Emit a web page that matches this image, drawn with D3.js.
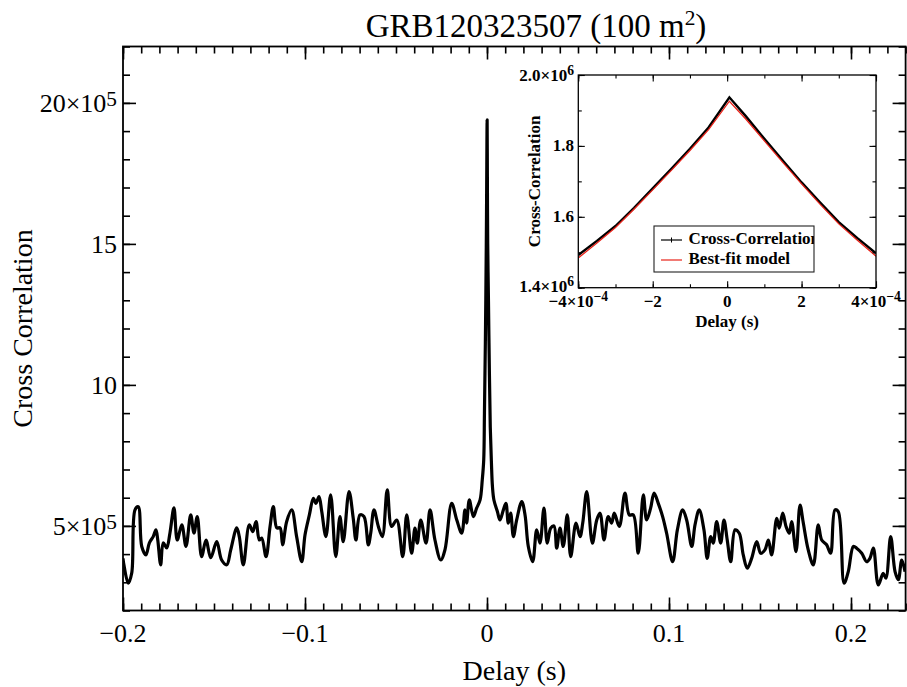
<!DOCTYPE html>
<html><head><meta charset="utf-8">
<script src="https://cdn.jsdelivr.net/npm/d3@7"></script>
<style>
body{margin:0;background:#fff}
svg{display:block}
text{font-family:"Liberation Serif","Times New Roman",serif;fill:#000}
</style>
</head><body>
<svg id="c" width="907" height="687"></svg>
<script>
// ---------------- DATA ----------------
const title = "GRB120323507 (100 m^2)";
const xLabel = "Delay (s)";
const yLabel = "Cross Correlation";

// Main cross-correlation (delay in s, value in units of 1e5)
const delay = [
-0.2000,-0.1995,-0.1971,-0.1952,-0.1934,-0.1916,-0.1897,-0.1874,-0.1855,-0.1834,-0.1819,-0.1809,-0.1793,-0.1779,-0.1760,-0.1742,-0.1720,-0.1702,-0.1677,-0.1654,
-0.1628,-0.1610,-0.1592,-0.1568,-0.1544,-0.1518,-0.1485,-0.1458,-0.1430,-0.1408,-0.1375,-0.1361,-0.1339,-0.1306,-0.1287,-0.1269,-0.1251,-0.1238,-0.1214,-0.1192,
-0.1174,-0.1155,-0.1137,-0.1123,-0.1101,-0.1073,-0.1046,-0.1018,-0.1000,-0.0976,-0.0954,-0.0940,-0.0923,-0.0908,-0.0885,-0.0859,-0.0831,-0.0808,-0.0790,-0.0758,
-0.0735,-0.0720,-0.0698,-0.0676,-0.0652,-0.0639,-0.0621,-0.0597,-0.0575,-0.0548,-0.0524,-0.0496,-0.0463,-0.0441,-0.0414,-0.0396,-0.0383,-0.0364,-0.0335,-0.0313,
-0.0286,-0.0254,-0.0231,-0.0194,-0.0166,-0.0139,-0.0121,-0.0112,-0.0097,-0.0075,-0.0057,-0.0038,-0.0026,-0.0018,-0.0014,-0.0009,-0.0004,-0.0002,0.00007,0.0002,
0.0004,0.0008,0.0013,0.0018,0.0024,0.0030,0.0038,0.0057,0.0071,0.0090,0.0104,0.0117,0.0130,0.0145,0.0163,0.0191,0.0209,0.0227,0.0251,0.0273,
0.0291,0.0313,0.0331,0.0350,0.0368,0.0383,0.0401,0.0419,0.0441,0.0460,0.0489,0.0511,0.0526,0.0548,0.0579,0.0603,0.0621,0.0643,0.0666,0.0685,
0.0699,0.0727,0.0758,0.0782,0.0804,0.0831,0.0859,0.0877,0.0899,0.0918,0.0941,0.0965,0.0987,0.1020,0.1046,0.1075,0.1097,0.1125,0.1143,0.1166,
0.1192,0.1210,0.1229,0.1243,0.1262,0.1284,0.1302,0.1320,0.1339,0.1363,0.1386,0.1408,0.1430,0.1454,0.1482,0.1504,0.1527,0.1546,0.1564,0.1592,
0.1606,0.1625,0.1643,0.1661,0.1674,0.1698,0.1720,0.1738,0.1765,0.1793,0.1820,0.1839,0.1866,0.1888,0.1912,0.1930,0.1962,0.1985,0.2013,0.2031,
0.2059,0.2086,0.2104,0.2123,0.2150,0.2177,0.2192,0.2218,0.2242,0.2260,0.2279,0.2297
];
const corr = [
3.85,3.62,2.97,3.33,5.57,5.68,4.27,3.97,4.40,4.62,4.86,4.50,3.62,4.40,4.22,4.75,5.64,4.50,5.04,4.27,
5.39,4.75,5.33,3.91,4.50,3.87,4.44,3.79,3.62,4.15,4.93,4.62,3.62,5.04,4.80,5.15,4.50,4.57,3.91,4.98,
5.68,4.93,4.93,4.33,5.15,5.57,4.62,3.73,4.68,5.39,5.98,5.80,6.04,5.51,4.62,6.10,3.91,5.33,4.44,6.22,
5.27,4.50,5.39,5.33,4.33,4.74,5.57,4.98,4.62,6.28,4.98,5.21,3.91,5.39,4.03,4.92,4.39,5.21,4.39,5.57,
4.50,3.79,4.15,5.80,5.21,4.74,5.57,5.10,5.92,5.33,5.63,5.92,6.63,7.34,9.00,11.5,14.9,16.8,19.4,17.5,
15.0,13.0,10.5,8.50,7.30,6.39,5.92,5.51,5.21,5.57,5.80,5.10,5.45,4.62,5.21,5.86,5.39,4.27,3.73,4.86,
4.39,5.63,4.39,4.92,5.00,4.21,4.92,4.27,5.39,3.91,5.10,4.62,5.10,6.22,4.39,5.21,5.45,4.50,5.33,5.10,
5.45,4.98,6.16,5.39,5.39,4.03,6.10,5.21,5.63,6.16,5.80,5.33,4.74,3.73,4.86,5.57,5.21,4.27,5.04,5.57,
4.86,3.85,4.62,4.39,5.15,4.39,5.21,4.50,3.73,4.86,4.74,3.97,3.50,3.85,4.44,4.03,4.15,4.50,3.97,5.27,
4.92,5.45,4.98,4.74,5.15,4.09,5.74,5.10,4.15,3.62,5.04,4.50,4.33,4.03,5.57,5.51,2.97,3.38,4.27,4.21,
4.03,3.73,3.85,4.21,2.91,3.32,3.15,4.62,3.38,3.09,3.79,3.38
];
const xTicks = [-0.2,-0.1,0,0.1,0.2];
const xTickLabels = ["\u22120.2","\u22120.1","0","0.1","0.2"];
const yTicks = [5,10,15,20];
const yTickLabels = ["5\u00d710^5","10","15","20\u00d710^5"];

// Inset (delay in s, correlation)
const insetDelay = [-4e-4,-3.5e-4,-3e-4,-2.5e-4,-2e-4,-1.5e-4,-1e-4,-0.5e-4,0.06e-4,0.5e-4,1e-4,1.5e-4,2e-4,2.5e-4,3e-4,3.5e-4,4e-4];
const insetCorr  = [1.492e6,1.532e6,1.574e6,1.625e6,1.680e6,1.735e6,1.792e6,1.852e6,1.937e6,1.884e6,1.820e6,1.758e6,1.697e6,1.640e6,1.585e6,1.540e6,1.497e6];
const insetModel = [1.484e6,1.526e6,1.570e6,1.622e6,1.676e6,1.731e6,1.787e6,1.846e6,1.926e6,1.876e6,1.814e6,1.753e6,1.693e6,1.635e6,1.580e6,1.534e6,1.489e6];
const insetXTicks = [-4e-4,-2e-4,0,2e-4,4e-4];
const insetXTickLabels = ["\u22124\u00d710^\u22124","\u22122","0","2","4\u00d710^\u22124"];
const insetYTicks = [1.4e6,1.6e6,1.8e6,2.0e6];
const insetYTickLabels = ["1.4\u00d710^6","1.6","1.8","2.0\u00d710^6"];
const insetXLabel = "Delay (s)";
const insetYLabel = "Cross-Correlation";
const legendItems = ["Cross-Correlation","Best-fit model"];
const legendColors = ["#000","#e8231a"];

// ---------------- DRAW ----------------
const svg = d3.select("#c");

function rich(sel, str, supScale, raise){
  const parts = str.split("^");
  sel.text(null);
  sel.append("tspan").text(parts[0]);
  if(parts.length>1){
    sel.append("tspan").attr("font-size", supScale+"em").attr("dy", (-raise)+"em").text(parts[1]);
  }
}

// ---- Main plot ----
const x = d3.scaleLinear().domain([-0.2,0.23]).range([123,905.6]);
const y = d3.scaleLinear().domain([2,22]).range([610.5,46.5]);
const [X0,X1] = x.range(), [Y0,Y1] = y.range();

svg.append("clipPath").attr("id","mclip").append("rect")
  .attr("x",X0).attr("y",Y1).attr("width",X1-X0).attr("height",Y0-Y1);

const idx = d3.range(delay.length);
svg.append("path").attr("clip-path","url(#mclip)")
  .attr("d", d3.line().curve(d3.curveCatmullRom.alpha(0.5)).x(i=>x(delay[i])).y(i=>y(corr[i]))(idx))
  .attr("fill","none").attr("stroke","#000").attr("stroke-width",3.2)
  .attr("stroke-linejoin","round");

const xMinor = d3.range(-20,24).map(i=>i/100);
const yMinor = d3.range(2,23);
function styleAxis(g){ g.select(".domain").remove(); g.selectAll("line").attr("stroke","#000").attr("stroke-width",1.6); }
const axes = svg.append("g");
[[xMinor,7],[xTicks,13]].forEach(([vals,len])=>{
  axes.append("g").attr("transform",`translate(0,${Y0})`).call(d3.axisBottom(x).tickValues(vals).tickSize(-len).tickFormat("")).call(styleAxis);
  axes.append("g").attr("transform",`translate(0,${Y1})`).call(d3.axisTop(x).tickValues(vals).tickSize(-len).tickFormat("")).call(styleAxis);
});
[[yMinor,7],[yTicks,13]].forEach(([vals,len])=>{
  axes.append("g").attr("transform",`translate(${X0},0)`).call(d3.axisLeft(y).tickValues(vals).tickSize(-len).tickFormat("")).call(styleAxis);
  axes.append("g").attr("transform",`translate(${X1},0)`).call(d3.axisRight(y).tickValues(vals).tickSize(-len).tickFormat("")).call(styleAxis);
});
svg.append("rect").attr("x",X0).attr("y",Y1).attr("width",X1-X0).attr("height",Y0-Y1)
  .attr("fill","none").attr("stroke","#000").attr("stroke-width",1.8);

svg.selectAll(".xtl").data(xTicks).join("text").attr("class","xtl")
  .attr("x",d=>x(d)).attr("y",642).attr("text-anchor","middle").attr("font-size",26)
  .text((d,i)=>xTickLabels[i]);
svg.selectAll(".ytl").data(yTicks).join("text").attr("class","ytl")
  .attr("x",117).attr("y",d=>y(d)+9).attr("text-anchor","end").attr("font-size",26)
  .each(function(d,i){ rich(d3.select(this), yTickLabels[i], 0.82, 0.3); });

svg.append("text").attr("x",(X0+X1)/2).attr("y",680).attr("text-anchor","middle")
  .attr("font-size",28).text(xLabel);
svg.append("text").attr("transform",`translate(31.5,${(Y0+Y1)/2}) rotate(-90)`)
  .attr("text-anchor","middle").attr("font-size",28).text(yLabel);

const t = svg.append("text").attr("x",536).attr("y",36.5).attr("text-anchor","middle").attr("font-size",33);
{
  const p = title.split("^");
  t.append("tspan").text(p[0]);
  t.append("tspan").attr("font-size","0.65em").attr("dy","-0.55em").text(p[1][0]);
  t.append("tspan").attr("dy","0.36em").text(p[1].slice(1));
}

// ---- Inset ----
const ix = d3.scaleLinear().domain([-4e-4,4e-4]).range([578.3,876]);
const iy = d3.scaleLinear().domain([1.4e6,2.0e6]).range([287.7,75]);
const [IX0,IX1] = ix.range(), [IY0,IY1] = iy.range();
const ins = svg.append("g");
ins.append("rect").attr("x",IX0).attr("y",IY1).attr("width",IX1-IX0).attr("height",IY0-IY1).attr("fill","#fff");
ins.append("clipPath").attr("id","iclip").append("rect")
  .attr("x",IX0).attr("y",IY1).attr("width",IX1-IX0).attr("height",IY0-IY1);
const iidx = d3.range(insetDelay.length);
ins.append("path").attr("clip-path","url(#iclip)")
  .attr("d", d3.line().x(i=>ix(insetDelay[i])).y(i=>iy(insetCorr[i]))(iidx))
  .attr("fill","none").attr("stroke",legendColors[0]).attr("stroke-width",2.4).attr("stroke-linejoin","miter");
ins.append("path").attr("clip-path","url(#iclip)")
  .attr("d", d3.line().x(i=>ix(insetDelay[i])).y(i=>iy(insetModel[i]))(iidx))
  .attr("fill","none").attr("stroke",legendColors[1]).attr("stroke-width",1.3);

const ixMinor = d3.range(-4,5).map(i=>i*1e-4);
const iyMinor = d3.range(14,21).map(i=>i*1e5);
function styleI(g){ g.select(".domain").remove(); g.selectAll("line").attr("stroke","#000").attr("stroke-width",1.1); }
[[ixMinor,3.5],[insetXTicks,6.5]].forEach(([vals,len])=>{
  ins.append("g").attr("transform",`translate(0,${IY0})`).call(d3.axisBottom(ix).tickValues(vals).tickSize(-len).tickFormat("")).call(styleI);
  ins.append("g").attr("transform",`translate(0,${IY1})`).call(d3.axisTop(ix).tickValues(vals).tickSize(-len).tickFormat("")).call(styleI);
});
[[iyMinor,3.5],[insetYTicks,6.5]].forEach(([vals,len])=>{
  ins.append("g").attr("transform",`translate(${IX0},0)`).call(d3.axisLeft(iy).tickValues(vals).tickSize(-len).tickFormat("")).call(styleI);
  ins.append("g").attr("transform",`translate(${IX1},0)`).call(d3.axisRight(iy).tickValues(vals).tickSize(-len).tickFormat("")).call(styleI);
});
ins.append("rect").attr("x",IX0).attr("y",IY1).attr("width",IX1-IX0).attr("height",IY0-IY1)
  .attr("fill","none").attr("stroke","#000").attr("stroke-width",1.3);

ins.selectAll(".ixl").data(insetXTicks).join("text").attr("class","ixl")
  .attr("x",d=>ix(d)).attr("y",306.5).attr("text-anchor","middle").attr("font-size",17).attr("font-weight","bold")
  .each(function(d,i){ rich(d3.select(this), insetXTickLabels[i], 0.8, 0.4); });
ins.selectAll(".iyl").data(insetYTicks).join("text").attr("class","iyl")
  .attr("x",574).attr("y",d=>iy(d)+(d===1.4e6?4:5.5)).attr("text-anchor","end").attr("font-size",17).attr("font-weight","bold")
  .each(function(d,i){ rich(d3.select(this), insetYTickLabels[i], 0.8, 0.4); });
ins.append("text").attr("x",(IX0+IX1)/2).attr("y",327).attr("text-anchor","middle")
  .attr("font-size",17).attr("font-weight","bold").text(insetXLabel);
ins.append("text").attr("transform",`translate(539.5,${(IY0+IY1)/2}) rotate(-90)`)
  .attr("text-anchor","middle").attr("font-size",17).attr("font-weight","bold").text(insetYLabel);

// legend
const lg = ins.append("g");
const LX=654, LY=226, LW=160, LH=46;
lg.append("clipPath").attr("id","lclip").append("rect").attr("x",LX).attr("y",LY).attr("width",LW).attr("height",LH);
lg.append("rect").attr("x",LX).attr("y",LY).attr("width",LW).attr("height",LH).attr("fill","#fff").attr("stroke","none");
legendItems.forEach((name,i)=>{
  const yy = LY+14+i*20;
  lg.append("line").attr("x1",661).attr("x2",682).attr("y1",yy).attr("y2",yy)
    .attr("stroke",legendColors[i]).attr("stroke-width",1.2);
  if(i===0){
    lg.append("line").attr("x1",671.5).attr("x2",671.5).attr("y1",yy-2.5).attr("y2",yy+2.5).attr("stroke","#000").attr("stroke-width",1);
  }
  lg.append("text").attr("clip-path","url(#lclip)").attr("x",688.5).attr("y",yy+4)
    .attr("font-size",17).attr("font-weight","bold").text(name);
});
lg.append("rect").attr("x",LX).attr("y",LY).attr("width",LW).attr("height",LH).attr("fill","none").attr("stroke","#222").attr("stroke-width",1.1);
</script>
</body></html>
